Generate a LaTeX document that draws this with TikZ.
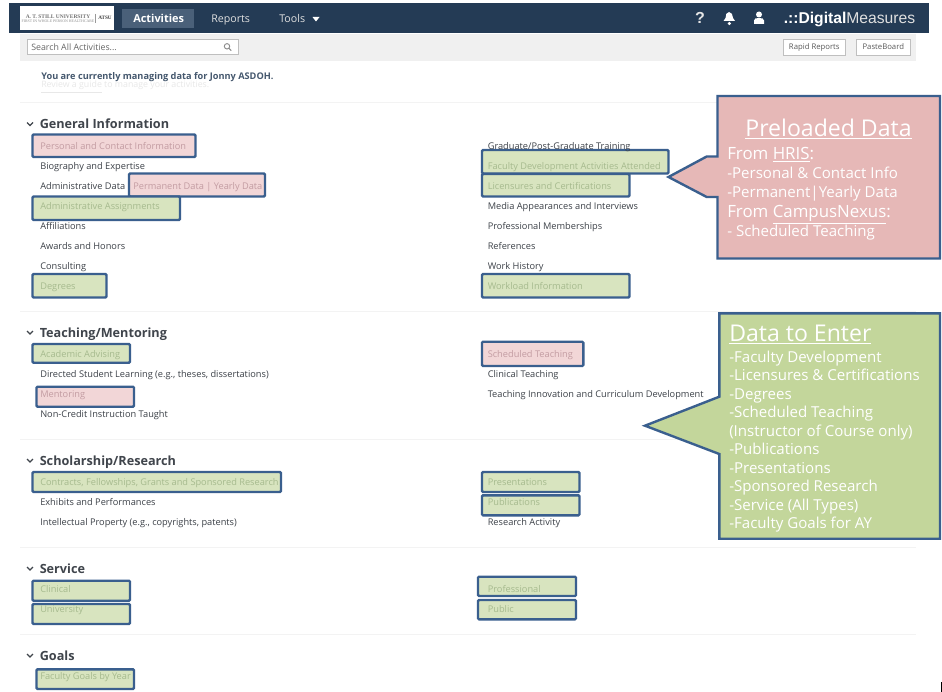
\documentclass[tikz,border=0pt]{standalone}
\usepackage{fontspec}
\setmainfont{Open Sans}
\newfontfamily\dmfont{Liberation Sans}
\newfontfamily\logofont{Liberation Serif}
\definecolor{navbar}{HTML}{243B55}
\definecolor{tabbg}{HTML}{4A6079}
\definecolor{stroke}{HTML}{3A5F8E}
\definecolor{pinkc}{HTML}{E6B8B7}
\definecolor{greenc}{HTML}{C3D69B}
\definecolor{pinkl}{HTML}{F2D6D7}
\definecolor{greenl}{HTML}{D8E4BF}
\definecolor{pinkt}{HTML}{C39CA2}
\definecolor{greent}{HTML}{A6BA8E}
\definecolor{bodyt}{HTML}{3C4148}
\definecolor{headt}{HTML}{40454C}
\definecolor{sep}{HTML}{F3F3F3}
\tikzset{
  x=0.75pt,y=-0.75pt,
  item/.style={anchor=base west,inner sep=0pt,font=\fontsize{6.93}{8}\selectfont,text=bodyt},
  itemp/.style={item,text=pinkt},
  itemg/.style={item,text=greent},
  head/.style={anchor=base west,inner sep=0pt,font=\fontsize{9.5}{11}\bfseries\selectfont,text=headt},
  pinkbox/.style={draw=stroke,fill=pinkl,line width=1.8pt,rounded corners=0.8pt},
  greenbox/.style={draw=stroke,fill=greenl,line width=1.8pt,rounded corners=0.8pt},
  sepline/.style={draw=sep,line width=1pt},
  chev/.style={draw=headt,line width=1pt},
  call/.style={draw=stroke,line width=1.8pt,line join=miter},
  calltext/.style={anchor=base west,inner sep=0pt,text=white,font=\fontsize{12.65}{14}\selectfont},
  calltitle/.style={calltext,font=\fontsize{17.3}{20}\selectfont},
  callsub/.style={calltext,font=\fontsize{11.3}{13}\selectfont},
  nav/.style={anchor=base west,inner sep=0pt,text=white,font=\fontsize{8}{9}\selectfont},
  btn/.style={draw=black!25,fill=white,line width=0.6pt},
  btnt/.style={anchor=center,inner sep=0pt,text=black!65,font=\fontsize{5.8}{7}\selectfont}
}
\begin{document}
\begin{tikzpicture}
\useasboundingbox (0,0) rectangle (942,692);
\fill[white] (0,0) rectangle (942,692);
% top bars
\fill[black!6] (20,34) rectangle (916,61);
\fill[navbar] (9,3.5) rectangle (929,33.5);
\fill[white] (20,6.5) rectangle (114,30.5);
\node[anchor=center,inner sep=0pt,text=black!55,font=\logofont\fontsize{4.1}{5}\bfseries\selectfont] (logoa) at (58,16.5) {A. T. STILL UNIVERSITY};
\node[anchor=center,inner sep=0pt,text=black!45,font=\logofont\fontsize{2.9}{3}\selectfont] (logob) at (58,20.8) {FIRST IN WHOLE PERSON HEALTHCARE};
\node[anchor=center,inner sep=0pt,text=black!75,font=\logofont\fontsize{3.9}{4}\bfseries\selectfont] (logoc) at (105,18) {ATSU};
\draw[black!40,line width=0.3pt] (95.5,14) -- (95.5,23);
\fill[tabbg] (122,9) rectangle (194,28);
\node[nav,font=\fontsize{8.2}{9}\bfseries\selectfont] (activities) at (133,22.5) {Activities};
\node[nav,text=black!12] (reports) at (211,22.5) {Reports};
\node[nav,text=black!12] (tools) at (279,22.5) {Tools};
\fill[white] (312.5,17) -- (319.5,17) -- (316,21.5) -- cycle;
\node[anchor=base,inner sep=0pt,text=black!10,font=\dmfont\fontsize{12}{14}\bfseries\selectfont] (help) at (700,23.5) {?};
\fill[white] (729,12) .. controls (726,12) and (726,15) .. (725.5,18) -- (723.5,21) -- (735,21) -- (733,18) .. controls (732.5,15) and (732,12) .. (729,12) -- cycle;
\fill[white] (729.3,23.5) circle (1.7);
\fill[white] (759,14.5) circle (3);
\fill[white] (754,24) -- (754,20.5) .. controls (754,18.5) and (756,18) .. (759,18) .. controls (762,18) and (764,18.5) .. (764,20.5) -- (764,24) -- cycle;
\node[anchor=base west,inner sep=0pt,text=white,font=\dmfont\fontsize{11.75}{14}\selectfont] (dm) at (783.5,23.5) {\textbf{.::Digital}\textcolor{black!12}{Measures}};
% search
\draw[btn] (27,39) rectangle (238,54.5);
\node[anchor=base west,inner sep=0pt,text=black!60,font=\fontsize{6.6}{8}\selectfont] (search) at (31,50.5) {Search All Activities...};
\draw[black!45,line width=0.7pt] (227,46.3) circle (2.7);
\draw[black!45,line width=0.8pt] (229,48.3) -- (231.3,50.6);
\draw[btn] (783.7,39) rectangle (845,55);
\node[btnt] (rapid) at (814.3,47) {Rapid Reports};
\draw[btn] (856.7,39) rectangle (910,55);
\node[btnt] (paste) at (883.3,47) {PasteBoard};
\node[anchor=base west,inner sep=0pt,text=navbar!85,font=\fontsize{6.9}{8}\bfseries\selectfont] (manage) at (41,79.5) {You are currently managing data for Jonny ASDOH.};
\node[anchor=base west,inner sep=0pt,text=black!9,font=\fontsize{6.6}{8}\selectfont] (review) at (41,88) {\underline{Review a guide} to manage your activities.};
% separators
\draw[sepline] (20,102.5) -- (916,102.5);
\draw[sepline] (20,311.5) -- (916,311.5);
\draw[sepline] (20,439.5) -- (916,439.5);
\draw[sepline] (20,547.5) -- (916,547.5);
\draw[sepline] (20,634.5) -- (916,634.5);
% chevrons
\draw[chev] (27,122.5) -- (30,125.5) -- (33,122.5);
\draw[chev] (27,331) -- (30,334) -- (33,331);
\draw[chev] (27,459) -- (30,462) -- (33,459);
\draw[chev] (27,567) -- (30,570) -- (33,567);
\draw[chev] (27,654) -- (30,657) -- (33,654);
% headings
\node[head] (hgen) at (39.5,128.5) {General Information};
\node[head] (htea) at (39.5,337) {Teaching/Mentoring};
\node[head] (hsch) at (39.5,465) {Scholarship/Research};
\node[head] (hser) at (39.5,573) {Service};
\node[head] (hgoa) at (39.5,660) {Goals};
% highlight boxes
\draw[pinkbox] (32.5,134.5) rectangle (195.5,157);
\draw[pinkbox] (129,173.5) rectangle (265,196.5);
\draw[greenbox] (32.5,196.5) rectangle (180,220);
\draw[greenbox] (32.5,274) rectangle (106.5,297.5);
\draw[greenbox] (482,150) rectangle (668.5,173.5);
\draw[greenbox] (482,174) rectangle (629.5,196.5);
\draw[greenbox] (482,274) rectangle (629.5,297.5);
\draw[greenbox] (32.5,344) rectangle (130,362.7);
\draw[pinkbox] (36.5,386.7) rectangle (134,406.7);
\draw[pinkbox] (482,341.7) rectangle (583.3,366);
\draw[greenbox] (32.5,472) rectangle (281,492);
\draw[greenbox] (482,472) rectangle (579.5,492);
\draw[greenbox] (482,495.3) rectangle (579.5,515.3);
\draw[greenbox] (32.5,580.7) rectangle (130,600.7);
\draw[greenbox] (32.5,604) rectangle (130,624);
\draw[greenbox] (478,576.7) rectangle (576,596);
\draw[greenbox] (478,600) rectangle (576,619.3);
\draw[greenbox] (36.5,669.3) rectangle (134,689);
% left column items
\node[itemp] (l1) at (40,149.2) {Personal and Contact Information};
\node[item] (l2) at (40,169.2) {Biography and Expertise};
\node[item] (l3) at (40,189.2) {Administrative Data};
\node[itemp] (l3b) at (133,189.2) {Permanent Data | Yearly Data};
\node[itemg] (l4) at (40,209.2) {Administrative Assignments};
\node[item] (l5) at (40,229.4) {Affiliations};
\node[item] (l6) at (40,249.4) {Awards and Honors};
\node[item] (l7) at (40,269.6) {Consulting};
\node[itemg] (l8) at (40,289.6) {Degrees};
\node[itemg] (t1) at (40,357) {Academic Advising};
\node[item] (t2) at (40,377) {Directed Student Learning (e.g., theses, dissertations)};
\node[itemp] (t3) at (40,397.2) {Mentoring};
\node[item] (t4) at (40,417.2) {Non-Credit Instruction Taught};
\node[itemg] (s1) at (40,485) {Contracts, Fellowships, Grants and Sponsored Research};
\node[item] (s2) at (40,505) {Exhibits and Performances};
\node[item] (s3) at (40,525.2) {Intellectual Property (e.g., copyrights, patents)};
\node[itemg] (v1) at (40,592.5) {Clinical};
\node[itemg] (v2) at (40,612.7) {University};
\node[itemg] (g1) at (40,679.5) {Faculty Goals by Year};
% right column items
\node[item] (r1) at (487.5,149.2) {Graduate/Post-Graduate Training};
\node[itemg] (r2) at (487.5,169) {Faculty Development Activities Attended};
\node[itemg] (r3) at (487.5,189) {Licensures and Certifications};
\node[item] (r4) at (487.5,209.2) {Media Appearances and Interviews};
\node[item] (r5) at (487.5,229.4) {Professional Memberships};
\node[item] (r6) at (487.5,249.4) {References};
\node[item] (r7) at (487.5,269.6) {Work History};
\node[itemg] (r8) at (487.5,289.6) {Workload Information};
\node[itemp] (u1) at (487.5,357) {Scheduled Teaching};
\node[item] (u2) at (487.5,377) {Clinical Teaching};
\node[item] (u3) at (487.5,397.2) {Teaching Innovation and Curriculum Development};
\node[itemg] (p1) at (487.5,485) {Presentations};
\node[itemg] (p2) at (487.5,505) {Publications};
\node[item] (p3) at (487.5,525.2) {Research Activity};
\node[itemg] (q1) at (487.5,592.5) {Professional};
\node[itemg] (q2) at (487.5,612.7) {Public};
% preloaded callout
\draw[call,fill=pinkc] (717.5,96) -- (940,96) -- (940,258.5) -- (717.5,258.5) -- (717.5,197) -- (706.7,197) -- (668.5,177) -- (706.7,156.5) -- (717.5,156.5) -- cycle;
\node[calltitle,anchor=base] (pt) at (828.5,136) {\underline{Preloaded Data}};
\node[calltext] (pa) at (727,159.5) {From \underline{HRIS}:};
\node[callsub] (pb) at (727,178) {-Personal \& Contact Info};
\node[callsub] (pc) at (727,197) {-Permanent|Yearly Data};
\node[calltext] (pd) at (727,217.5) {From \underline{CampusNexus}:};
\node[callsub] (pe) at (727,236.5) {- Scheduled Teaching};
% data to enter callout
\draw[call,fill=greenc] (719.3,313.3) -- (940,313.3) -- (940,538.7) -- (719.3,538.7) -- (719.3,454) -- (645,425.7) -- (719.3,396.7) -- cycle;
\node[calltitle] (dt) at (729,341) {\underline{Data to Enter}};
\node[callsub] (d1) at (729,362) {-Faculty Development};
\node[callsub] (d2) at (729,380.5) {-Licensures \& Certifications};
\node[callsub] (d3) at (729,399) {-Degrees};
\node[callsub] (d4) at (729,417.5) {-Scheduled Teaching};
\node[callsub] (d5) at (729,436) {(Instructor of Course only)};
\node[callsub] (d6) at (729,454.5) {-Publications};
\node[callsub] (d7) at (729,473) {-Presentations};
\node[callsub] (d8) at (729,491.5) {-Sponsored Research};
\node[callsub] (d9) at (729,510) {-Service (All Types)};
\node[callsub] (d10) at (729,528.5) {-Faculty Goals for AY};
% corner mark
\fill[black] (940.7,682) rectangle (942,692);
\end{tikzpicture}
\end{document}
